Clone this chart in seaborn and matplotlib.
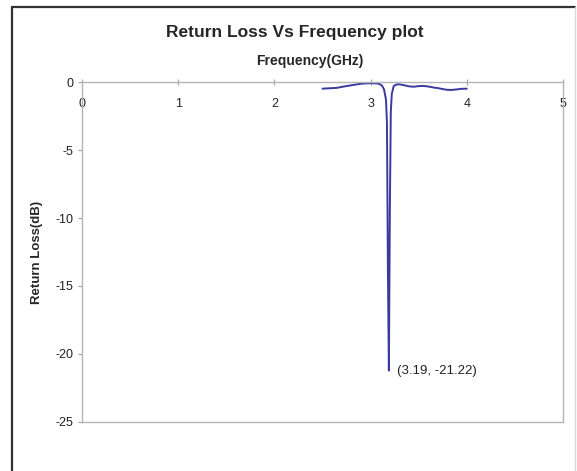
import pandas as pd
import seaborn as sns
import matplotlib.pyplot as plt
from matplotlib.lines import Line2D

# Return loss readings (GHz, dB)
freq = [2.50, 2.55, 2.60, 2.65, 2.70, 2.75, 2.80, 2.85, 2.90, 2.95,
        3.00, 3.05, 3.08, 3.10, 3.12, 3.14, 3.16, 3.17, 3.18, 3.19,
        3.20, 3.21, 3.22, 3.24, 3.27, 3.30, 3.35, 3.40, 3.45, 3.50,
        3.55, 3.60, 3.65, 3.70, 3.75, 3.80, 3.85, 3.90, 3.95, 4.00]
return_loss = [-0.49, -0.47, -0.45, -0.43, -0.36, -0.30, -0.24, -0.18, -0.13, -0.10,
               -0.09, -0.10, -0.12, -0.18, -0.28, -0.55, -1.3, -3.0, -13.8, -21.22,
               -9.5, -2.2, -0.9, -0.30, -0.18, -0.17, -0.24, -0.32, -0.35, -0.30,
               -0.29, -0.33, -0.40, -0.45, -0.52, -0.58, -0.58, -0.54, -0.50, -0.49]
x_ticks = [0, 1, 2, 3, 4, 5]
y_ticks = [0, -5, -10, -15, -20, -25]
min_point = (3.19, -21.22)

df = pd.DataFrame({"Frequency": freq, "ReturnLoss": return_loss})

sns.set_style("white")
plt.rcParams["font.family"] = ["Liberation Sans", "DejaVu Sans"]
plt.rcParams["axes.unicode_minus"] = False

fig = plt.figure(figsize=(5.77, 4.71), dpi=100)
ax = fig.add_axes([82 / 577, 1 - 422 / 471, (563 - 82) / 577, (422 - 82) / 471])

sns.lineplot(data=df, x="Frequency", y="ReturnLoss", ax=ax, color="#3a3a9e",
             linewidth=1.4, sort=False, estimator=None)

ax.set_xlim(0, 5)
ax.set_ylim(-25, 0)
ax.set_xticks(x_ticks)
ax.set_xticklabels([str(t) for t in x_ticks])
ax.set_yticks(y_ticks)
ax.set_yticklabels([str(t) for t in y_ticks])

# x axis sits on top (at 0 dB), labels drawn just under the axis line
ax.tick_params(axis="x", top=True, bottom=False, labeltop=True, labelbottom=False,
               direction="inout", length=5, width=0.8, color="#a0a0a0",
               pad=-23, labelsize=9, labelcolor="#222222")
ax.tick_params(axis="y", left=True, direction="out", length=3, width=0.8,
               color="#a0a0a0", pad=3, labelsize=9, labelcolor="#222222")

for side in ["top", "bottom", "left", "right"]:
    ax.spines[side].set_color("#b5b5b5")
    ax.spines[side].set_linewidth(1.0)

ax.set_xlabel("")
ax.set_ylabel("Return Loss(dB)", fontsize=9.5, fontweight="bold", labelpad=9)

ax.annotate("({}, {})".format(*min_point), xy=min_point, xytext=(6, 0),
            textcoords="offset points", va="center", ha="left", fontsize=9.5,
            color="#222222")

fig.text(295 / 577, 1 - 33 / 471, "Return Loss Vs Frequency plot",
         ha="center", va="center", fontsize=12.5, fontweight="bold")
fig.text(310 / 577, 1 - 61 / 471, "Frequency(GHz)",
         ha="center", va="center", fontsize=10, fontweight="bold")

# outer chart frame
fig.add_artist(Line2D([12 / 577, 12 / 577], [0, 1 - 7 / 471], transform=fig.transFigure,
                      color="#333333", linewidth=1.6))
fig.add_artist(Line2D([12 / 577, 575 / 577], [1 - 7 / 471, 1 - 7 / 471], transform=fig.transFigure,
                      color="#333333", linewidth=1.6))
fig.add_artist(Line2D([575 / 577, 575 / 577], [0, 1 - 7 / 471], transform=fig.transFigure,
                      color="#d8d8d8", linewidth=1.0))

fig.savefig("out.png", dpi=100)
plt.close(fig)
